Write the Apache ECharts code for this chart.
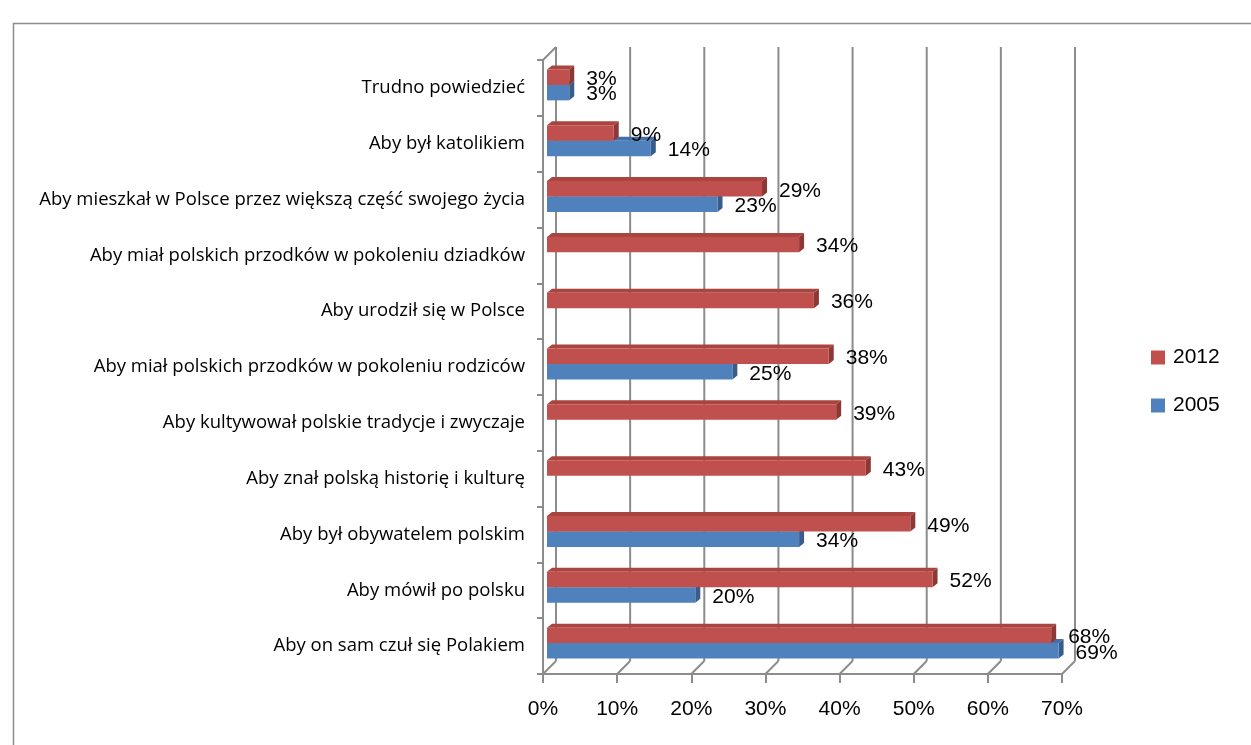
<!DOCTYPE html>
<html>
<head>
<meta charset="utf-8">
<script src="https://cdn.jsdelivr.net/npm/echarts@6/dist/echarts.min.js"></script>
<style>
  html, body { margin: 0; padding: 0; background: #fff; }
  #chart { width: 1251px; height: 745px; }
</style>
</head>
<body>
<div id="chart"></div>
<script>
// Categories, listed top to bottom
const categories = [
  'Trudno powiedzieć',
  'Aby był katolikiem',
  'Aby mieszkał w Polsce przez większą część swojego życia',
  'Aby miał polskich przodków w pokoleniu dziadków',
  'Aby urodził się w Polsce',
  'Aby miał polskich przodków w pokoleniu rodziców',
  'Aby kultywował polskie tradycje i zwyczaje',
  'Aby znał polską historię i kulturę',
  'Aby był obywatelem polskim',
  'Aby mówił po polsku',
  'Aby on sam czuł się Polakiem'
];
// Percentages per survey year (null = not asked that year)
const values2012 = [3, 9, 29, 34, 36, 38, 39, 43, 49, 52, 68];
const values2005 = [3, 14, 23, null, null, 25, null, null, 34, 20, 69];
// Value-axis ticks (percent)
const xTicks = [0, 10, 20, 30, 40, 50, 60, 70];

const LABEL_FONT = '"Liberation Sans", Arial, sans-serif';
const CAT_FONT = '"Open Sans", sans-serif';

// 3D look: back wall offset and bar depth (pixels)
const WALL = 13;
const BAR_FRONT = 4;
const BAR_DX = 5, BAR_DY = 4;

const faces = {
  '2012': { front: '#C0504D', top: '#A9443F', side: '#8E3835' },
  '2005': { front: '#4F81BD', top: '#4570A6', side: '#385D8A' }
};

function toData(arr) {
  const out = [];
  arr.forEach((v, i) => { if (v != null) out.push([v, i]); });
  return out;
}

function barRenderer(name, slot) {
  const f = faces[name];
  return function (params, api) {
    const v = api.value(0);
    const cat = api.value(1);
    const p0 = api.coord([0, cat]);
    const p1 = api.coord([v, cat]);
    const band = api.size([0, 1])[1];
    const h = band * 0.277;
    const shift = 3;
    const yTop = slot === 0 ? p0[1] - shift - h : p0[1] - shift;
    const yBot = yTop + h;
    const x0 = p0[0] + BAR_FRONT;
    const x1 = p1[0] + BAR_FRONT;
    return {
      type: 'group',
      children: [
        { type: 'polygon', shape: { points: [[x0, yTop], [x1, yTop], [x1 + BAR_DX, yTop - BAR_DY], [x0 + BAR_DX, yTop - BAR_DY]] }, style: { fill: f.top } },
        { type: 'polygon', shape: { points: [[x1, yTop], [x1 + BAR_DX, yTop - BAR_DY], [x1 + BAR_DX, yBot - BAR_DY], [x1, yBot]] }, style: { fill: f.side } },
        { type: 'rect', shape: { x: x0, y: yTop, width: x1 - x0, height: h }, style: { fill: f.front } },
        { type: 'text', style: { text: v + '%', x: x1 + 17, y: (yTop + yBot) / 2 + 2, align: 'left', verticalAlign: 'middle', font: '21px ' + LABEL_FONT, fill: '#000' } }
      ]
    };
  };
}

function wallRenderer(params, api) {
  const v = api.value(0);
  const n = categories.length;
  const band = api.size([0, 1])[1];
  const top = api.coord([v, 0])[1] - band / 2;
  const bottom = api.coord([v, n - 1])[1] + band / 2;
  const x = api.coord([v, 0])[0];
  const lineStyle = { stroke: '#8C8C8C', lineWidth: 2, fill: null };
  const children = [
    { type: 'line', shape: { x1: x + WALL, y1: top - WALL, x2: x + WALL, y2: bottom - WALL }, style: lineStyle },
    { type: 'line', shape: { x1: x, y1: bottom, x2: x + WALL, y2: bottom - WALL }, style: lineStyle }
  ];
  if (v === xTicks[0]) {
    children.push({ type: 'line', shape: { x1: x, y1: top, x2: x + WALL, y2: top - WALL }, style: lineStyle });
  }
  return { type: 'group', children };
}

const chart = echarts.init(document.getElementById('chart'), null, { renderer: 'canvas' });

chart.setOption({
  animation: false,
  backgroundColor: '#fff',
  graphic: [{
    type: 'rect', left: 11, top: 21,
    shape: { width: 1300, height: 800 },
    style: { fill: null, stroke: '#8C8C8C', lineWidth: 1.5 },
    silent: true
  }],
  grid: { left: 543, right: 189, top: 60, bottom: 71, containLabel: false, outerBoundsMode: 'none' },
  legend: {
    data: ['2012', '2005'],
    orient: 'vertical',
    left: 1151, top: 347, padding: 0,
    itemWidth: 14, itemHeight: 14, itemGap: 27,
    icon: 'rect',
    textStyle: { fontFamily: LABEL_FONT, fontSize: 21, color: '#000', padding: [0, 0, 0, 3] }
  },
  xAxis: {
    type: 'value', min: 0, max: 70, interval: 10,
    axisLine: { show: true, lineStyle: { color: '#8C8C8C', width: 2 } },
    axisTick: { show: true, length: 9, lineStyle: { color: '#8C8C8C', width: 2 } },
    splitLine: { show: false },
    axisLabel: { formatter: '{value}%', fontFamily: LABEL_FONT, fontSize: 21, color: '#000', margin: 25 }
  },
  yAxis: {
    type: 'category', data: categories, inverse: true,
    axisLine: { show: true, lineStyle: { color: '#8C8C8C', width: 2 } },
    axisTick: { show: true, length: 6, lineStyle: { color: '#8C8C8C', width: 2 } },
    axisLabel: { fontFamily: CAT_FONT, fontSize: 18.5, color: '#000', margin: 18, padding: [6, 0, 0, 0] }
  },
  series: [
    {
      name: 'wall', type: 'custom', silent: true, z: 1,
      data: xTicks.map(v => [v, 0]),
      renderItem: wallRenderer
    },
    {
      name: '2005', type: 'custom', z: 2,
      itemStyle: { color: faces['2005'].front },
      data: toData(values2005),
      encode: { x: 0, y: 1 },
      renderItem: barRenderer('2005', 1)
    },
    {
      name: '2012', type: 'custom', z: 3,
      itemStyle: { color: faces['2012'].front },
      data: toData(values2012),
      encode: { x: 0, y: 1 },
      renderItem: barRenderer('2012', 0)
    }
  ]
});
</script>
</body>
</html>
